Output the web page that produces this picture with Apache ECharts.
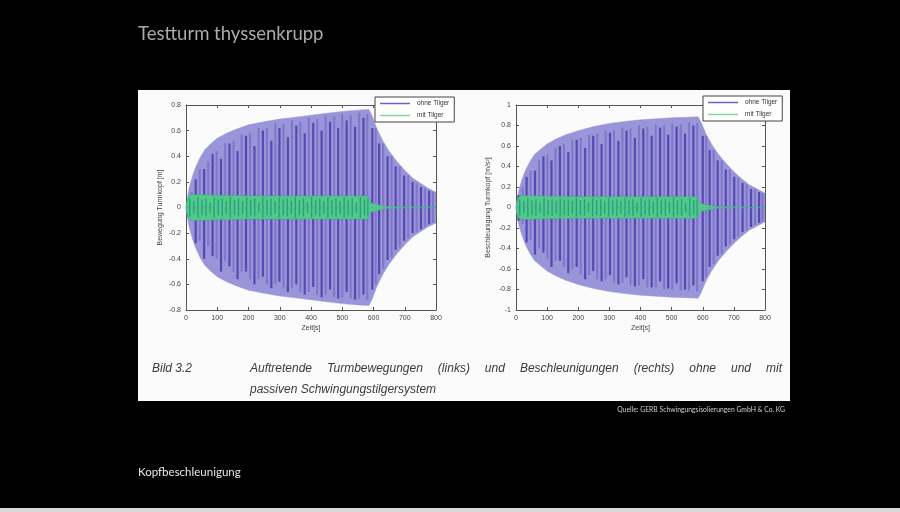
<!DOCTYPE html>
<html>
<head>
<meta charset="utf-8">
<script src="https://cdn.jsdelivr.net/npm/echarts@6/dist/echarts.min.js"></script>
<style>
html,body{margin:0;padding:0;background:#000;}
#c{width:900px;height:512px;}
</style>
</head>
<body>
<div id="c"></div>
<script>
// ---- data ----
// envelope of "ohne Tilger" (time [s], amplitude)
const envTime = [0,5,10,20,30,45,60,80,100,130,160,200,250,300,350,400,450,500,550,585,595,610,630,650,675,700,725,750,775,800];
const dispEnv = [0,0.08,0.15,0.24,0.31,0.39,0.45,0.50,0.54,0.58,0.61,0.645,0.67,0.69,0.705,0.72,0.735,0.75,0.76,0.765,0.72,0.62,0.52,0.44,0.36,0.29,0.23,0.19,0.15,0.12];
const accEnv  = [0,0.10,0.18,0.28,0.36,0.45,0.52,0.57,0.62,0.67,0.71,0.75,0.79,0.82,0.84,0.855,0.865,0.875,0.88,0.885,0.83,0.72,0.61,0.52,0.43,0.35,0.28,0.22,0.18,0.14];

// dark stripes inside the "ohne Tilger" band
const dispStripeT   = [5,31,58,85,112,139,165,192,219,246,273,299,326,353,380,407,434,461,487,514,541,568,596,618,645,671,698,725,752,778];
const dispStripeTop = [0.06,0.22,0.30,0.42,0.38,0.50,0.44,0.56,0.48,0.60,0.52,0.62,0.55,0.64,0.58,0.66,0.60,0.67,0.62,0.68,0.63,0.70,0.62,0.50,0.40,0.32,0.25,0.20,0.16,0.13];
const dispStripeBot = [-0.07,-0.28,-0.40,-0.38,-0.50,-0.46,-0.56,-0.50,-0.60,-0.54,-0.63,-0.58,-0.66,-0.60,-0.68,-0.62,-0.70,-0.64,-0.71,-0.66,-0.72,-0.68,-0.64,-0.52,-0.41,-0.33,-0.26,-0.20,-0.17,-0.13];
// medium stripes between them
const dispMidT   = [18,44,71,98,125,152,178,205,232,259,286,312,339,366,393,420,447,474,500,527,554,580,607,631,658,684,711,738,765,790];
const dispMidTop = [0.12,0.30,0.36,0.44,0.50,0.52,0.57,0.58,0.62,0.62,0.66,0.65,0.68,0.67,0.70,0.69,0.72,0.71,0.73,0.72,0.74,0.73,0.62,0.50,0.40,0.32,0.25,0.19,0.15,0.12];
const dispMidBot = [-0.10,-0.26,-0.30,-0.40,-0.42,-0.50,-0.50,-0.56,-0.56,-0.60,-0.60,-0.63,-0.63,-0.66,-0.66,-0.68,-0.68,-0.70,-0.70,-0.71,-0.71,-0.72,-0.60,-0.48,-0.39,-0.31,-0.24,-0.19,-0.15,-0.12];

const accStripeT   = [8,34,61,88,114,141,168,195,222,248,275,302,329,355,382,409,436,463,489,516,543,570,600,622,648,674,701,728,755,781];
const accStripeTop = [0.12,0.30,0.36,0.50,0.46,0.60,0.54,0.66,0.58,0.70,0.62,0.73,0.65,0.75,0.68,0.77,0.70,0.78,0.71,0.79,0.72,0.80,0.70,0.56,0.46,0.37,0.30,0.24,0.18,0.15];
const accStripeBot = [-0.13,-0.34,-0.46,-0.44,-0.58,-0.52,-0.64,-0.58,-0.70,-0.62,-0.72,-0.66,-0.75,-0.68,-0.77,-0.70,-0.78,-0.72,-0.79,-0.74,-0.80,-0.76,-0.72,-0.58,-0.47,-0.38,-0.31,-0.24,-0.19,-0.15];
const accMidT   = [21,47,74,101,127,154,181,208,235,261,288,315,342,368,395,422,449,476,502,529,556,582,611,635,661,687,714,741,768,792];
const accMidTop = [0.20,0.36,0.46,0.52,0.58,0.62,0.66,0.68,0.71,0.72,0.75,0.75,0.78,0.77,0.80,0.79,0.81,0.80,0.82,0.81,0.83,0.82,0.70,0.56,0.46,0.37,0.29,0.23,0.18,0.14];
const accMidBot = [-0.16,-0.32,-0.40,-0.50,-0.52,-0.58,-0.60,-0.65,-0.66,-0.70,-0.70,-0.73,-0.73,-0.76,-0.76,-0.78,-0.78,-0.80,-0.80,-0.81,-0.81,-0.82,-0.68,-0.55,-0.45,-0.36,-0.28,-0.22,-0.17,-0.14];

// envelope of "mit Tilger"
const greenTime = [0,3,8,15,40,100,200,300,400,500,580,586,592,600,610,620,635,650,700,800];
const greenDisp = [0,0.05,0.09,0.10,0.10,0.095,0.09,0.09,0.09,0.09,0.09,0.08,0.035,0.03,0.025,0.018,0.01,0.006,0.004,0.003];
const greenAcc  = [0,0.06,0.10,0.115,0.115,0.11,0.105,0.105,0.105,0.105,0.105,0.09,0.04,0.035,0.03,0.022,0.012,0.007,0.004,0.003];

// darker stripes inside the "mit Tilger" band
const greenStripeT = [12,25,38,51,64,77,90,103,116,129,142,155,168,181,194,207,220,233,246,259,272,285,298,311,324,337,350,363,376,389,402,415,428,441,454,467,480,493,506,519,532,545,558,571,582];
const greenStripeDisp = [0.07,0.05,0.08,0.06,0.07,0.04,0.08,0.06,0.07,0.05,0.08,0.06,0.07,0.05,0.08,0.06,0.07,0.04,0.08,0.06,0.07,0.05,0.08,0.06,0.07,0.05,0.08,0.06,0.07,0.04,0.08,0.06,0.07,0.05,0.08,0.06,0.07,0.05,0.08,0.06,0.07,0.04,0.08,0.06,0.07];
const greenStripeAcc  = [0.08,0.06,0.09,0.07,0.08,0.05,0.09,0.07,0.08,0.06,0.09,0.07,0.08,0.06,0.09,0.07,0.08,0.05,0.09,0.07,0.08,0.06,0.09,0.07,0.08,0.06,0.09,0.07,0.08,0.05,0.09,0.07,0.08,0.06,0.09,0.07,0.08,0.06,0.09,0.07,0.08,0.05,0.09,0.07,0.08];

const legendNames = ['ohne Tilger','mit Tilger'];

// ---- styling ----
const PURPLE_FILL = '#9a95d8';
const PURPLE_MID = '#7c72c9';
const PURPLE_DARK = '#4f40ae';
const GREEN_FILL = '#52c986';
const GREEN_DARK = '#1f9a83';
const AX = '#555';
const FONT = '"Liberation Sans", Arial, sans-serif';

const chart = echarts.init(document.getElementById('c'));

function pairs(ts, vs, sign){ return ts.map((t,i)=>[t, sign*vs[i]]); }

function stripeSeries(name, gi, ts, tops, bots, color, w, z){
  return {
    name, type:'custom', xAxisIndex:gi*2, yAxisIndex:gi*2, z,
    data: ts.map((t,i)=>[t, tops[i], bots[i]]),
    encode:{x:0, y:[1,2]},
    renderItem:(params, api)=>{
      const p1 = api.coord([api.value(0), api.value(1)]);
      const p2 = api.coord([api.value(0), api.value(2)]);
      return {type:'line', shape:{x1:p1[0],y1:p1[1],x2:p2[0],y2:p2[1]}, style:{stroke:color, lineWidth:w, opacity:0.9}};
    },
    silent:true, animation:false
  };
}
function bandSeries(name, gi, ts, vs, sign, fill, line, lw, z){
  return {
    name, type:'line', xAxisIndex:gi*2, yAxisIndex:gi*2, z,
    data: pairs(ts, vs, sign), symbol:'none', smooth:false,
    lineStyle:{color:line, width:lw}, itemStyle:{color:fill},
    areaStyle:{color:fill, opacity:1, origin:0},
    silent:true, animation:false
  };
}

const grids = [
  {left:186, top:105, width:250, height:205},
  {left:516, top:105, width:249, height:205}
];
const yCfg = [
  {min:-0.8, max:0.8, interval:0.2, name:'Bewegung Turmkopf [m]'},
  {min:-1, max:1, interval:0.2, name:'Beschleunigung Turmkopf [m/s²]'}
];

const xAxes = [], yAxes = [];
grids.forEach((g,gi)=>{
  xAxes.push({
    gridIndex:gi, type:'value', min:0, max:800, interval:100, position:'bottom',
    axisLine:{onZero:false, lineStyle:{color:AX, width:1}},
    axisTick:{inside:true, length:3, lineStyle:{color:AX}},
    axisLabel:{fontSize:7, color:'#444', margin:5, fontFamily:FONT},
    splitLine:{show:false},
    name:'Zeit[s]', nameLocation:'middle', nameGap:15,
    nameTextStyle:{fontSize:7, color:'#444', fontFamily:FONT}
  });
  xAxes.push({
    gridIndex:gi, type:'value', min:0, max:800, interval:100, position:'top',
    axisLine:{onZero:false, lineStyle:{color:AX, width:1}},
    axisTick:{inside:true, length:3, lineStyle:{color:AX}},
    axisLabel:{show:false}, splitLine:{show:false}
  });
  const yc = yCfg[gi];
  yAxes.push({
    gridIndex:gi, type:'value', min:yc.min, max:yc.max, interval:yc.interval, position:'left',
    axisLine:{show:true, onZero:false, lineStyle:{color:AX, width:1}},
    axisTick:{show:true, inside:true, length:3, lineStyle:{color:AX}},
    axisLabel:{fontSize:7, color:'#444', margin:5, fontFamily:FONT,
      formatter:v=>{ const r = Math.round(v*10)/10; return r===0 ? '0' : (Math.abs(r)===1 ? String(r) : r.toFixed(1)); }},
    splitLine:{show:false},
    name:yc.name, nameLocation:'middle', nameGap:gi===0?22:24, nameRotate:90,
    nameTextStyle:{fontSize:7, color:'#444', fontFamily:FONT}
  });
  yAxes.push({
    gridIndex:gi, type:'value', min:yc.min, max:yc.max, interval:yc.interval, position:'right',
    axisLine:{show:true, onZero:false, lineStyle:{color:AX, width:1}},
    axisTick:{show:true, inside:true, length:3, lineStyle:{color:AX}},
    axisLabel:{show:false}, splitLine:{show:false}
  });
});

const series = [
  bandSeries(legendNames[0], 0, envTime, dispEnv, 1, PURPLE_FILL, PURPLE_FILL, 0.5, 2),
  bandSeries(legendNames[0], 0, envTime, dispEnv, -1, PURPLE_FILL, PURPLE_FILL, 0.5, 2),
  stripeSeries(legendNames[0], 0, dispMidT, dispMidTop, dispMidBot, PURPLE_MID, 2, 3),
  stripeSeries(legendNames[0], 0, dispStripeT, dispStripeTop, dispStripeBot, PURPLE_DARK, 2.2, 3),
  bandSeries(legendNames[1], 0, greenTime, greenDisp, 1, GREEN_FILL, '#38b38a', 0.6, 4),
  bandSeries(legendNames[1], 0, greenTime, greenDisp, -1, GREEN_FILL, '#38b38a', 0.6, 4),
  stripeSeries(legendNames[1], 0, greenStripeT, greenStripeDisp, greenStripeDisp.map(v=>-v), GREEN_DARK, 1.3, 5),

  bandSeries(legendNames[0], 1, envTime, accEnv, 1, PURPLE_FILL, PURPLE_FILL, 0.5, 2),
  bandSeries(legendNames[0], 1, envTime, accEnv, -1, PURPLE_FILL, PURPLE_FILL, 0.5, 2),
  stripeSeries(legendNames[0], 1, accMidT, accMidTop, accMidBot, PURPLE_MID, 2, 3),
  stripeSeries(legendNames[0], 1, accStripeT, accStripeTop, accStripeBot, PURPLE_DARK, 2.2, 3),
  bandSeries(legendNames[1], 1, greenTime, greenAcc, 1, GREEN_FILL, '#38b38a', 0.6, 4),
  bandSeries(legendNames[1], 1, greenTime, greenAcc, -1, GREEN_FILL, '#38b38a', 0.6, 4),
  stripeSeries(legendNames[1], 1, greenStripeT, greenStripeAcc, greenStripeAcc.map(v=>-v), GREEN_DARK, 1.3, 5)
];

function legendAt(left, top){
  return {
    left, top, orient:'vertical', selectedMode:false, z:20,
    backgroundColor:'#fff', borderColor:'#444', borderWidth:1, padding:[3,5,3,5],
    itemWidth:30, itemHeight:1.5, itemGap:5, icon:'rect',
    textStyle:{fontSize:6.5, color:'#333', fontFamily:FONT, padding:[0,0,0,2]},
    data:[
      {name:legendNames[0], itemStyle:{color:'#6b61c9'}},
      {name:legendNames[1], itemStyle:{color:'#80d89c'}}
    ]
  };
}

// caption text with justified first line
const capFont = 'italic 12px "Liberation Sans", Arial, sans-serif';
const capWords = ['Auftretende','Turmbewegungen','(links)','und','Beschleunigungen','(rechts)','ohne','und','mit'];
const ctx = document.createElement('canvas').getContext('2d');
ctx.font = capFont;
const capLeft = 250, capRight = 782;
const wsum = capWords.reduce((s,w)=>s+ctx.measureText(w).width,0);
const gap = (capRight-capLeft-wsum)/(capWords.length-1);
const capEls = [];
let cx = capLeft;
capWords.forEach(w=>{
  capEls.push({type:'text', left:cx, top:363, z:100, style:{text:w, font:capFont, fill:'#3a3a3a'}});
  cx += ctx.measureText(w).width + gap;
});

const option = {
  backgroundColor:'#000',
  animation:false,
  grid:grids,
  xAxis:xAxes,
  yAxis:yAxes,
  legend:[legendAt(375,97), legendAt(703,96)],
  series,
  graphic:{elements:[
    {type:'rect', z:-10, shape:{x:138,y:90,width:652,height:311}, style:{fill:'#fbfbfb'}},
    {type:'rect', z:-10, shape:{x:0,y:508,width:900,height:4}, style:{fill:'#d9d9d9'}},
    {type:'text', left:138, top:25, z:100, style:{text:'Testturm thyssenkrupp', font:'18.5px Lato, "Open Sans", sans-serif', fill:'#ababab'}},
    {type:'text', left:138, top:466, z:100, style:{text:'Kopfbeschleunigung', font:'11.5px Lato, "Open Sans", sans-serif', fill:'#e8e8e8'}},
    {type:'text', right:115, top:406, z:100, style:{text:'Quelle: GERB Schwingungsisolierungen GmbH & Co. KG', font:'6.8px Lato, "Open Sans", sans-serif', fill:'#cfcfcf'}},
    {type:'text', left:152, top:363, z:100, style:{text:'Bild 3.2', font:capFont, fill:'#3a3a3a'}},
    {type:'text', left:250, top:384, z:100, style:{text:'passiven Schwingungstilgersystem', font:capFont, fill:'#3a3a3a'}},
    ...capEls
  ]}
};
chart.setOption(option);
</script>
</body>
</html>
